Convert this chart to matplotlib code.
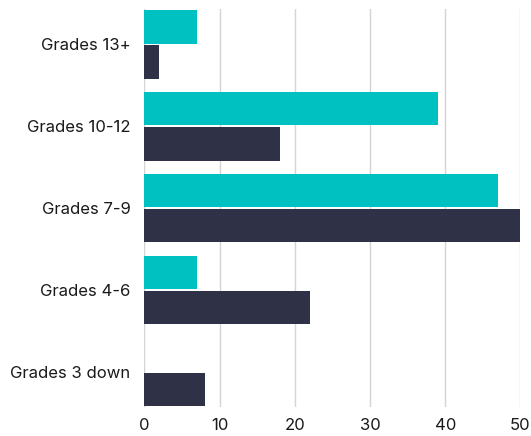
import numpy as np
from matplotlib import pyplot as plt

categories = ["Grades 13+", "Grades 10-12", "Grades 7-9", "Grades 4-6", "Grades 3 down"]
teal_vals = [7, 39, 47, 7, 0]
dark_vals = [2, 18, 50, 22, 8]
xticks = [0, 10, 20, 30, 40, 50]

fig = plt.figure(figsize=(5.31, 4.36), dpi=100)
ax = fig.add_axes([0.272, 0.0665, 0.708, 0.9125])

y = np.arange(len(categories))
h = 0.41
ax.barh(y - 0.215, teal_vals, height=h, color="#00C1C1", zorder=3)
ax.barh(y + 0.215, dark_vals, height=h, color="#2F3147", zorder=3)

ax.set_ylim(len(categories) - 0.57, -0.43)
ax.set_xlim(0, 50)
ax.set_yticks(y)
ax.set_yticklabels(categories)
ax.set_xticks(xticks)

for s in ax.spines.values():
    s.set_visible(False)
ax.grid(axis="x", color="#d4d4d4", linewidth=1, zorder=0)
ax.tick_params(axis="both", length=0, labelsize=12, labelcolor="#1a1a1a")
ax.tick_params(axis="y", pad=10)
ax.tick_params(axis="x", pad=8)
for lab in ax.get_xticklabels() + ax.get_yticklabels():
    lab.set_fontfamily("Inter")

fig.savefig("out.png", dpi=100)
